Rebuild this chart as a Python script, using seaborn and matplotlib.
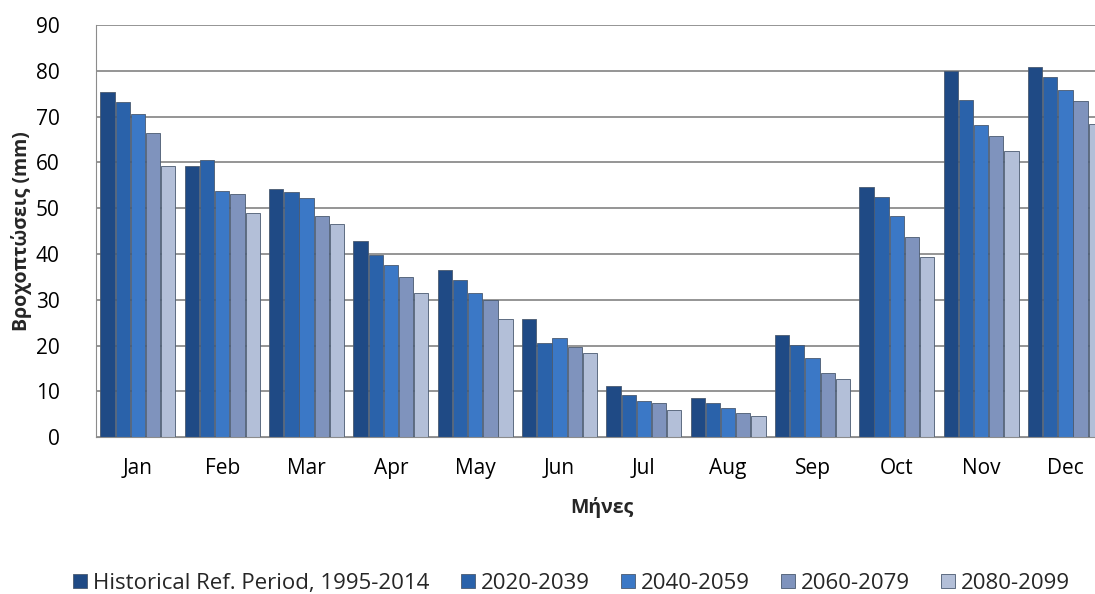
import numpy as np
import pandas as pd
import matplotlib.pyplot as plt
import seaborn as sns

months = ["Jan", "Feb", "Mar", "Apr", "May", "Jun", "Jul", "Aug", "Sep", "Oct", "Nov", "Dec"]
periods = ["Historical Ref. Period, 1995-2014", "2020-2039", "2040-2059", "2060-2079", "2080-2099"]

hist = [75.3, 59.2, 54.2, 42.8, 36.4, 25.7, 11.2, 8.6, 22.2, 54.7, 79.9, 80.8]
p2020 = [73.2, 60.6, 53.5, 39.8, 34.3, 20.6, 9.3, 7.5, 20.2, 52.5, 73.7, 78.6]
p2040 = [70.6, 53.8, 52.2, 37.5, 31.4, 21.7, 8.0, 6.4, 17.2, 48.2, 68.1, 75.7]
p2060 = [66.5, 53.1, 48.3, 34.9, 29.9, 19.6, 7.5, 5.2, 14.1, 43.7, 65.8, 73.5]
p2080 = [59.2, 49.0, 46.6, 31.5, 25.9, 18.3, 6.0, 4.6, 12.6, 39.4, 62.4, 68.3]

colors = ["#1f4a85", "#2a62aa", "#3b78c6", "#7f93bd", "#b3bfd8"]

series = [hist, p2020, p2040, p2060, p2080]
df = pd.DataFrame({
    "month": months * len(periods),
    "period": np.repeat(periods, len(months)),
    "value": np.concatenate(series),
})

sns.set_style("white")
plt.rcParams['font.family'] = ['Open Sans', 'DejaVu Sans']

fig = plt.figure(figsize=(10.95, 5.94), dpi=100)
ax = fig.add_axes([0.0875, 0.264, 0.924, 0.694])

sns.barplot(data=df, x="month", y="value", hue="period", palette=colors,
            width=0.9, gap=0.06, saturation=1, edgecolor="#4a5a70", linewidth=0.6,
            ax=ax, legend=True)

ax.set_ylim(0, 90)
ax.set_yticks(range(0, 91, 10))
ax.set_xlim(-0.5, 11.5)
ax.yaxis.grid(True, color="#8c8c8c", linewidth=1.3)
ax.set_axisbelow(True)
for s in ["top", "right"]:
    ax.spines[s].set_visible(False)
ax.spines["left"].set_color("#8c8c8c")
ax.spines["bottom"].set_color("#8c8c8c")
ax.tick_params(axis="both", labelsize=15, colors="black", length=0)
ax.tick_params(axis="x", pad=15)
ax.tick_params(axis="y", pad=26)
ax.set_xlabel("Μήνες", fontsize=14, fontweight="bold", labelpad=13)
ax.set_ylabel("Βροχοπτώσεις (mm)", fontsize=14, fontweight="bold", labelpad=3)

handles, labels = ax.get_legend_handles_labels()
ax.legend(handles, labels, loc="center", bbox_to_anchor=(0.522, 0.018),
          bbox_transform=fig.transFigure, ncol=5, frameon=False, fontsize=16,
          handlelength=0.65, handleheight=0.65, handletextpad=0.25, columnspacing=1.4)

fig.savefig("out.png", dpi=100)
